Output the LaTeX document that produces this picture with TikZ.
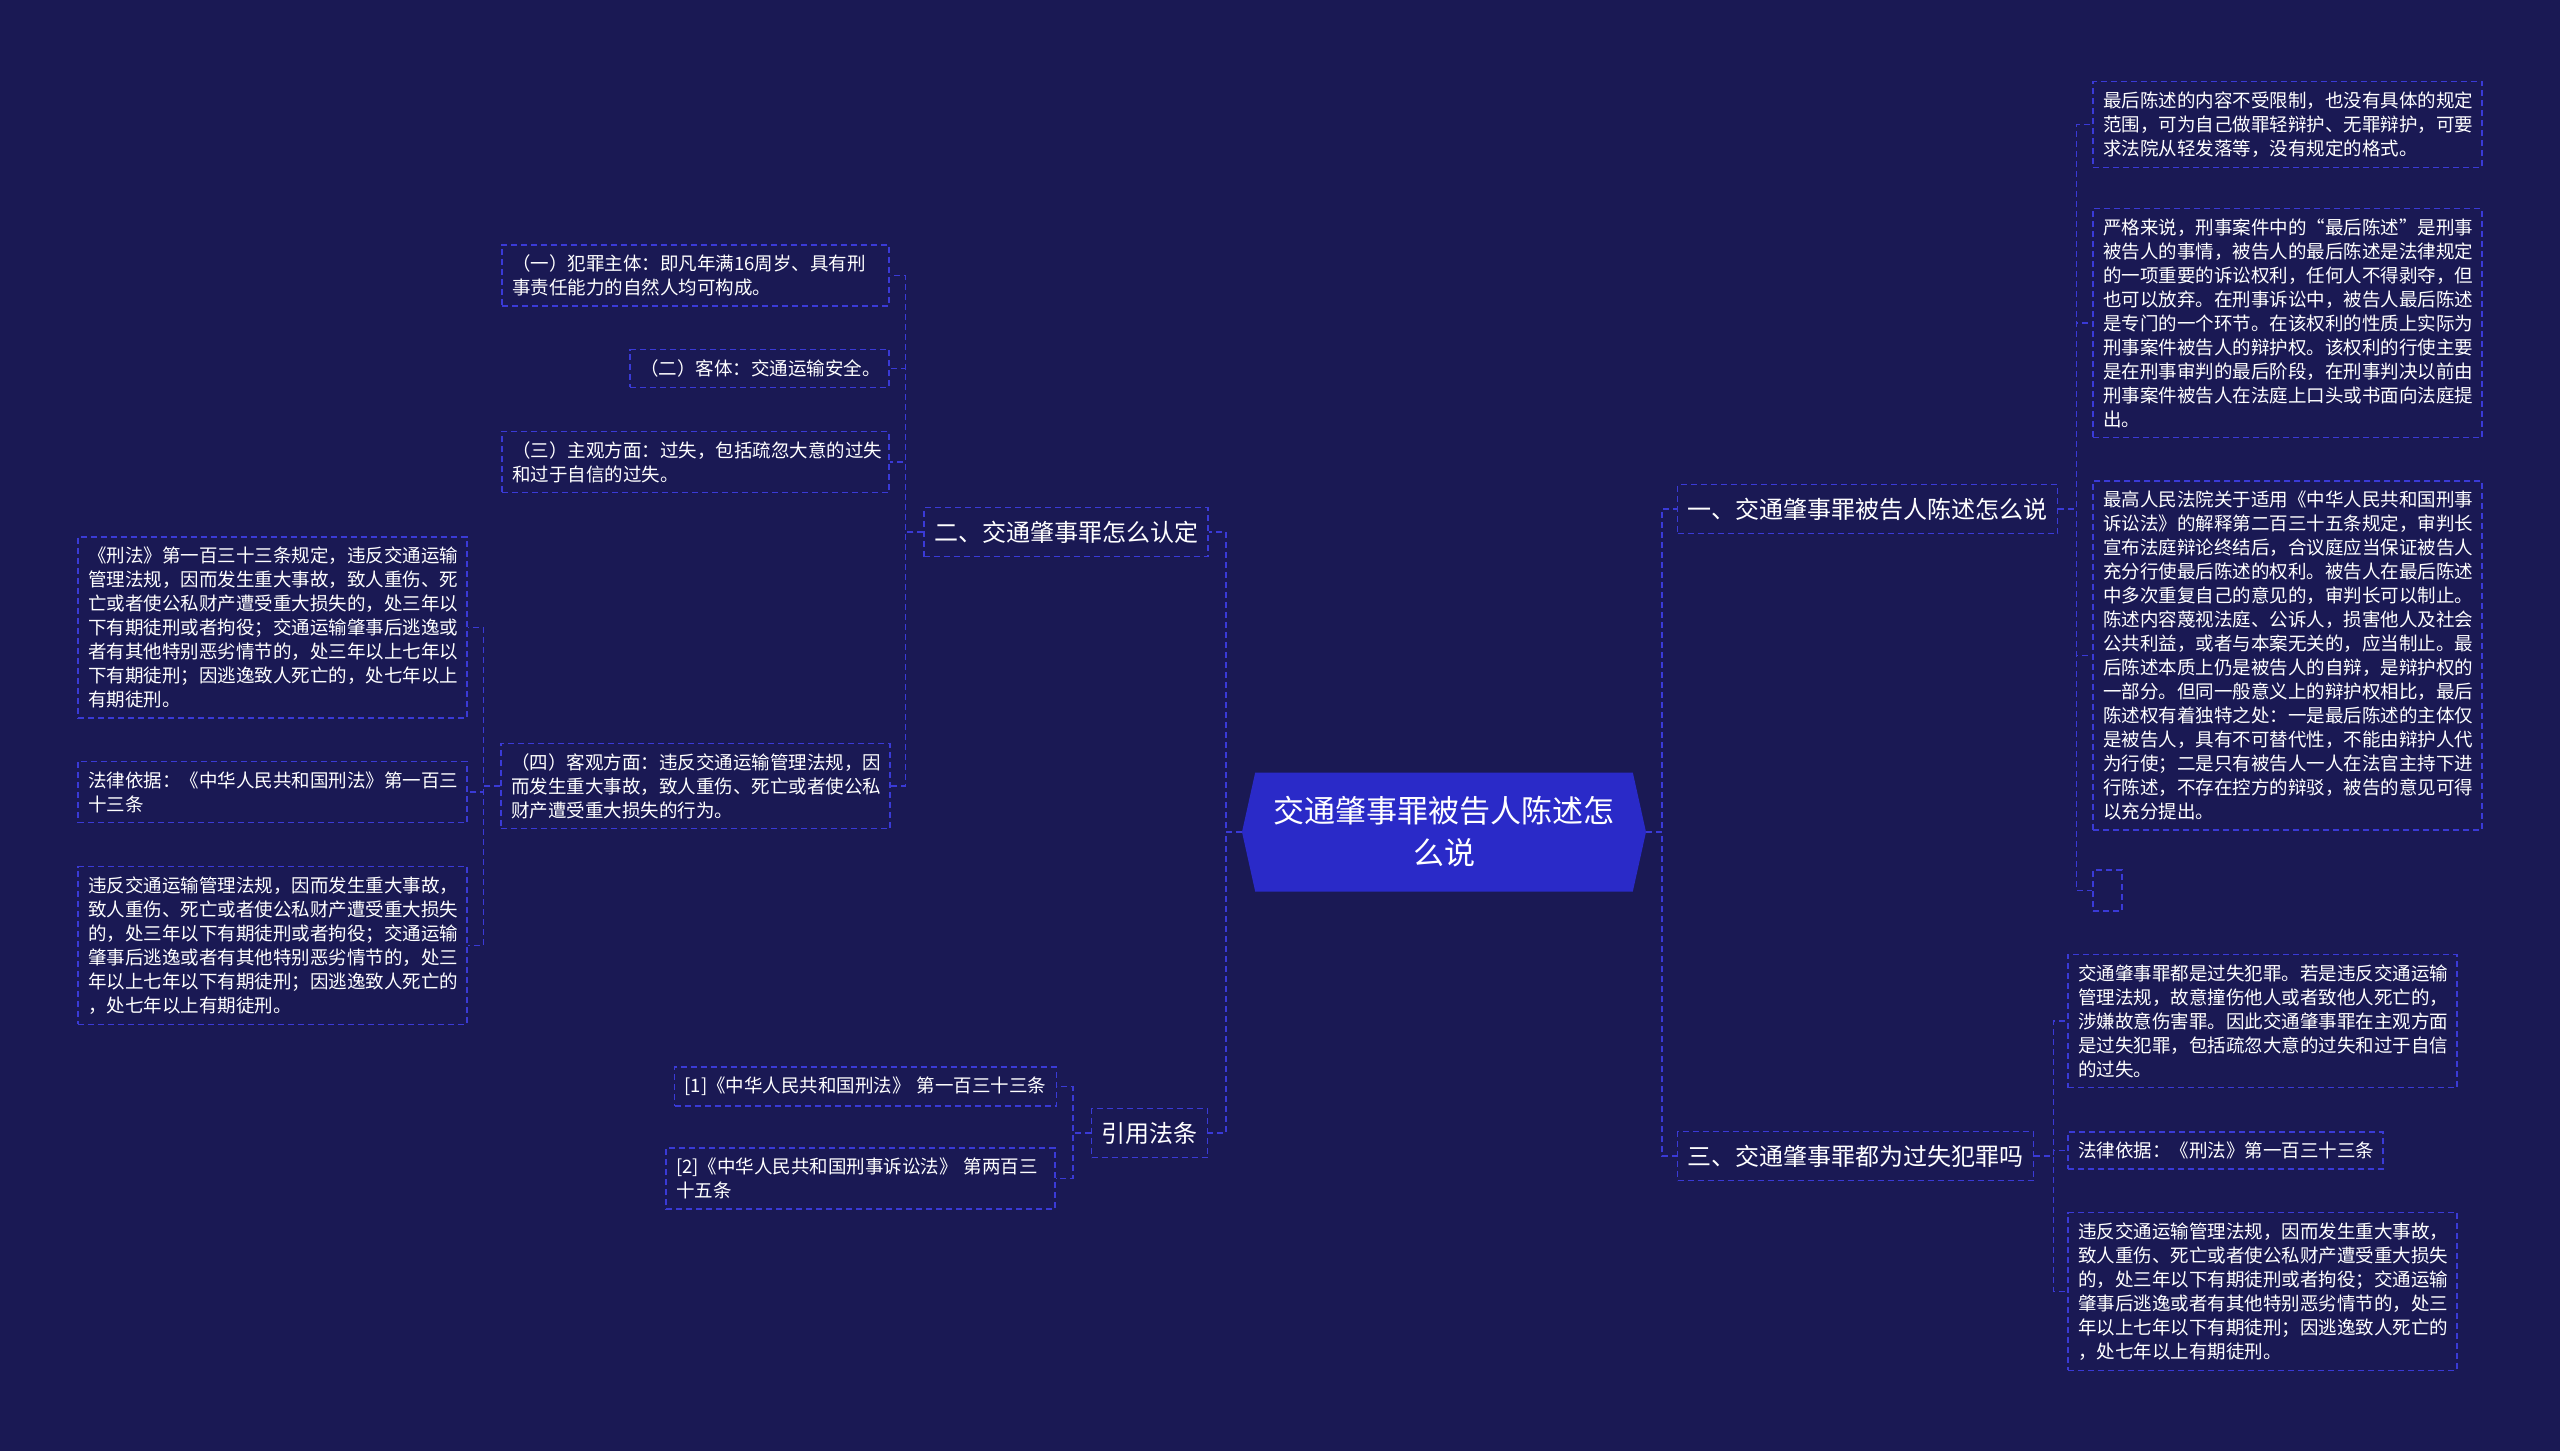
\documentclass[tikz,border=0pt]{standalone}
\usepackage{fontspec}
\setmainfont{Noto Sans CJK SC}
\usetikzlibrary{shapes.symbols}
\definecolor{bgnavy}{RGB}{26,25,84}
\definecolor{rootblue}{RGB}{42,42,200}
\definecolor{dashblue}{RGB}{58,58,214}

\begin{document}
\begin{tikzpicture}[x=1pt, y=-1pt,
    boxline/.style={draw=dashblue, line width=1.5pt, dash pattern=on 6pt off 4pt},
    link/.style={dashblue, line width=1.5pt, dash pattern=on 6pt off 4pt},
    leaf/.style={boxline, text=white, align=left, text width=369pt,
      inner xsep=10pt, inner ysep=10pt, font=\fontsize{18.5}{24}\selectfont},
    branch/.style={boxline, text=white, inner xsep=10pt, minimum height=49pt,
      font=\fontsize{24}{30}\selectfont},
    rootbox/.style={shape=signal, signal to=west and east, signal pointer angle=155,
      fill=rootblue, text=white, align=center, minimum width=404pt, minimum height=119pt,
      font=\fontsize{31}{42}\selectfont}]
        \fill[bgnavy] (0,0) rectangle (2560,1451);
        \useasboundingbox (0,0) rectangle (2560,1451);

        \node[rootbox] (root) at (1444,832) {交通肇事罪被告人陈述怎\\么说};

        \node[branch] (er) at (1066,532) {二、交通肇事罪怎么认定};
        \node[branch] (yin) at (1149.5,1133) {引用法条};
        \node[branch] (yi) at (1867.5,509) {一、交通肇事罪被告人陈述怎么说};
        \node[branch] (san) at (1855.5,1156) {三、交通肇事罪都为过失犯罪吗};

        \node[leaf] (yi1) at (2287.5,124.5) {最后陈述的内容不受限制，也没有具体的规定\\范围，可为自己做罪轻辩护、无罪辩护，可要\\求法院从轻发落等，没有规定的格式。};
        \node[leaf] (yi2) at (2287.5,323) {严格来说，刑事案件中的“最后陈述”是刑事\\被告人的事情，被告人的最后陈述是法律规定\\的一项重要的诉讼权利，任何人不得剥夺，但\\也可以放弃。在刑事诉讼中，被告人最后陈述\\是专门的一个环节。在该权利的性质上实际为\\刑事案件被告人的辩护权。该权利的行使主要\\是在刑事审判的最后阶段，在刑事判决以前由\\刑事案件被告人在法庭上口头或书面向法庭提\\出。};
        \node[leaf] (yi3) at (2287.5,655.5) {最高人民法院关于适用《中华人民共和国刑事\\诉讼法》的解释第二百三十五条规定，审判长\\宣布法庭辩论终结后，合议庭应当保证被告人\\充分行使最后陈述的权利。被告人在最后陈述\\中多次重复自己的意见的，审判长可以制止。\\陈述内容蔑视法庭、公诉人，损害他人及社会\\公共利益，或者与本案无关的，应当制止。最\\后陈述本质上仍是被告人的自辩，是辩护权的\\一部分。但同一般意义上的辩护权相比，最后\\陈述权有着独特之处：一是最后陈述的主体仅\\是被告人，具有不可替代性，不能由辩护人代\\为行使；二是只有被告人一人在法官主持下进\\行陈述，不存在控方的辩驳，被告的意见可得\\以充分提出。};
        \node[boxline, minimum width=29pt, minimum height=41pt, inner sep=0pt] (yi4) at (2107.5,890.5) {};

        \node[leaf] (san1) at (2262.5,1021) {交通肇事罪都是过失犯罪。若是违反交通运输\\管理法规，故意撞伤他人或者致他人死亡的，\\涉嫌故意伤害罪。因此交通肇事罪在主观方面\\是过失犯罪，包括疏忽大意的过失和过于自信\\的过失。};
        \node[leaf, text width=295pt] (san2) at (2225.5,1150.5) {法律依据：《刑法》第一百三十三条};
        \node[leaf] (san3) at (2262.5,1291.5) {违反交通运输管理法规，因而发生重大事故，\\致人重伤、死亡或者使公私财产遭受重大损失\\的，处三年以下有期徒刑或者拘役；交通运输\\肇事后逃逸或者有其他特别恶劣情节的，处三\\年以上七年以下有期徒刑；因逃逸致人死亡的\\，处七年以上有期徒刑。};

        \node[leaf, text width=367pt] (er1) at (695.5,275.5) {（一）犯罪主体：即凡年满16周岁、具有刑\\事责任能力的自然人均可构成。};
        \node[leaf, text width=239pt] (er2) at (759.5,368.5) {（二）客体：交通运输安全。};
        \node[leaf, text width=367pt] (er3) at (695.5,462) {（三）主观方面：过失，包括疏忽大意的过失\\和过于自信的过失。};
        \node[leaf] (er4) at (695.5,786) {（四）客观方面：违反交通运输管理法规，因\\而发生重大事故，致人重伤、死亡或者使公私\\财产遭受重大损失的行为。};

        \node[leaf] (si1) at (272.5,627.5) {《刑法》第一百三十三条规定，违反交通运输\\管理法规，因而发生重大事故，致人重伤、死\\亡或者使公私财产遭受重大损失的，处三年以\\下有期徒刑或者拘役；交通运输肇事后逃逸或\\者有其他特别恶劣情节的，处三年以上七年以\\下有期徒刑；因逃逸致人死亡的，处七年以上\\有期徒刑。};
        \node[leaf] (si2) at (272.5,792) {法律依据：《中华人民共和国刑法》第一百三\\十三条};
        \node[leaf] (si3) at (272.5,945.5) {违反交通运输管理法规，因而发生重大事故，\\致人重伤、死亡或者使公私财产遭受重大损失\\的，处三年以下有期徒刑或者拘役；交通运输\\肇事后逃逸或者有其他特别恶劣情节的，处三\\年以上七年以下有期徒刑；因逃逸致人死亡的\\，处七年以上有期徒刑。};

        \node[leaf, text width=362pt] (yin1) at (865.5,1086.5) {[1]《中华人民共和国刑法》 第一百三十三条};
        \node[leaf] (yin2) at (860.5,1178.5) {[2]《中华人民共和国刑事诉讼法》 第两百三\\十五条};

        \draw[link] (root.west) -- ++(-16,0) |- (er.east);
        \draw[link] (root.west) -- ++(-16,0) |- (yin.east);
        \draw[link] (root.east) -- ++(16,0) |- (yi.west);
        \draw[link] (root.east) -- ++(16,0) |- (san.west);

        \draw[link] (yi.east) -- ++(18,0) |- (yi1.west);
        \draw[link] (yi.east) -- ++(18,0) |- (yi2.west);
        \draw[link] (yi.east) -- ++(18,0) |- (yi3.west);
        \draw[link] (yi.east) -- ++(18,0) |- (yi4.west);

        \draw[link] (san.east) -- ++(19,0) |- (san1.west);
        \draw[link] (san.east) -- ++(19,0) |- (san2.west);
        \draw[link] (san.east) -- ++(19,0) |- (san3.west);

        \draw[link] (er.west) -- ++(-18,0) |- (er1.east);
        \draw[link] (er.west) -- ++(-18,0) |- (er2.east);
        \draw[link] (er.west) -- ++(-18,0) |- (er3.east);
        \draw[link] (er.west) -- ++(-18,0) |- (er4.east);

        \draw[link] (er4.west) -- ++(-17,0) |- (si1.east);
        \draw[link] (er4.west) -- ++(-17,0) |- (si2.east);
        \draw[link] (er4.west) -- ++(-17,0) |- (si3.east);

        \draw[link] (yin.west) -- ++(-18,0) |- (yin1.east);
        \draw[link] (yin.west) -- ++(-18,0) |- (yin2.east);
      \end{tikzpicture}
\end{document}
